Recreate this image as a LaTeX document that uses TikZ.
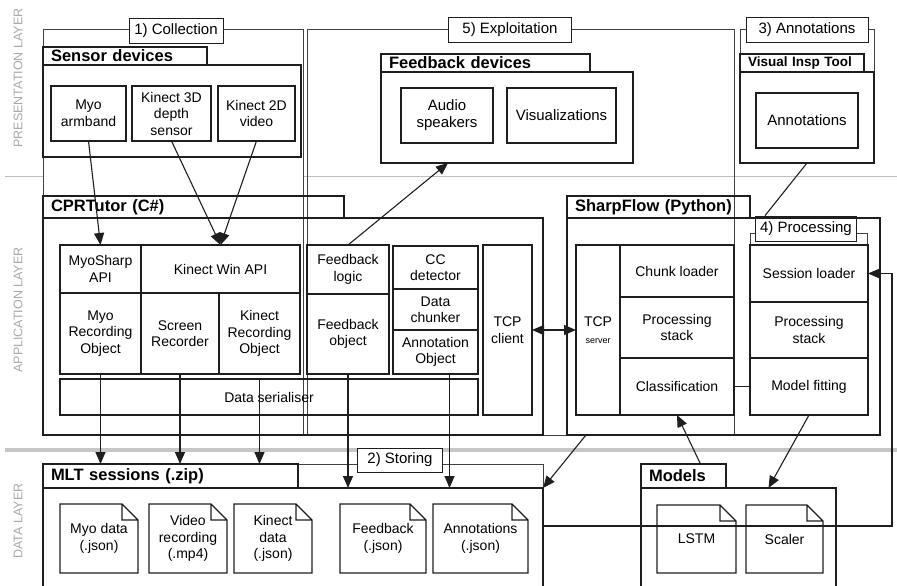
\documentclass[tikz,border=0pt]{standalone}
\usepackage{fontspec}
\setmainfont{Liberation Sans}
\usetikzlibrary{positioning,arrows.meta}
\definecolor{lineGray}{HTML}{1E1E1E}
\definecolor{layerGray}{HTML}{A8A8A8}

\begin{document}
\begin{tikzpicture}[x=1pt, y=-1pt, line width=1.1pt, >={Triangle[length=12pt,width=10pt]},
    box/.style={draw=lineGray, align=center, inner sep=1pt, outer sep=0pt, anchor=north west, font=\fontsize{14}{16.5}\selectfont},
    filebox/.style={align=center, inner sep=1pt, outer sep=0pt, anchor=north west, minimum height=69pt, font=\fontsize{14}{16.5}\selectfont},
    tabbox/.style={draw=lineGray, anchor=south west, inner xsep=8pt, inner ysep=0pt, outer sep=0pt, align=left, font=\bfseries\fontsize{16.5}{18}\selectfont},
    pkg/.style={draw=lineGray, anchor=north west, inner sep=0pt, outer sep=0pt},
    phasefr/.style={draw=lineGray!85, line width=0.7pt, anchor=north west, inner sep=0pt, outer sep=0pt},
    phaselbl/.style={draw=lineGray, fill=white, line width=0.8pt, inner xsep=4pt, inner ysep=0pt, minimum height=25pt, font=\fontsize{15}{17}\selectfont},
    layerlbl/.style={rotate=90, text=layerGray, font=\fontsize{12.5}{14}\selectfont},
    conn/.style={draw=lineGray, ->}]
  \useasboundingbox (0,0) rectangle (897,586);

  % layer separators and layer names
  \draw[layerGray!75, line width=0.8pt] (5,176) -- (897,176);
  \draw[layerGray!65, line width=4pt] (5,450) -- (897,450);
  \node[layerlbl] (lpres) at (18,78) {PRESENTATION LAYER};
  \node[layerlbl] (lapp) at (18,310) {APPLICATION LAYER};
  \node[layerlbl] (ldata) at (18,521) {DATA LAYER};

  % phase frames
  \node[phasefr, fill=white, minimum width=260pt, minimum height=406pt] (collect) at (43,29) {};
  \node[phasefr, minimum width=427pt, minimum height=406pt] (exploit) at (307,29) {};
  \node[phasefr, minimum width=134pt, minimum height=134pt] (annot) at (740,29) {};
  \node[phasefr, minimum width=117pt, minimum height=182pt] (process) at (750,233) {};
  \node[phasefr, minimum width=500pt, minimum height=130pt] (storing) at (43,464) {};
  \node[phaselbl, minimum width=94pt] (lcollect) at (176,30.5) {1) Collection};
  \node[phaselbl, minimum width=123pt] (lexploit) at (510,29.5) {5) Exploitation};
  \node[phaselbl, minimum width=122pt] (lannot) at (807,29.5) {3) Annotations};
  \node[phaselbl, minimum width=101pt] (lprocess) at (806,228.5) {4) Processing};
  \node[phaselbl, minimum width=85pt, minimum height=24pt] (lstoring) at (400,460) {2) Storing};

  % presentation layer
  \node[tabbox, text width=148pt, minimum height=18pt] (senstab) at (43,65) {Sensor devices};
  \node[pkg, minimum width=258pt, minimum height=92pt] (sensors) at (43,65) {};
  \node[box, minimum width=75pt, minimum height=55pt] (myo) at (51,86) {Myo\\armband};
  \node[box, minimum width=79pt, minimum height=55pt, right=6pt of myo] (kin3d) {Kinect 3D\\depth\\sensor};
  \node[box, minimum width=77pt, minimum height=55pt, right=7pt of kin3d] (kin2d) {Kinect 2D\\video};

  \node[tabbox, text width=193pt, minimum height=18pt] (fbtab) at (381,72) {Feedback devices};
  \node[pkg, minimum width=252pt, minimum height=91pt] (fbdev) at (381,72) {};
  \node[box, minimum width=92pt, minimum height=55pt, font=\fontsize{15}{17}\selectfont] (audio) at (401,88) {Audio\\speakers};
  \node[box, minimum width=109pt, minimum height=55pt, font=\fontsize{15}{17}\selectfont, right=14pt of audio] (visual) {Visualizations};

  \node[tabbox, text width=108pt, minimum height=18pt, font=\bfseries\fontsize{13.5}{15}\selectfont] (vittab) at (740,72) {Visual Insp Tool};
  \node[pkg, minimum width=134pt, minimum height=91pt] (vit) at (740,72) {};
  \node[box, minimum width=102pt, minimum height=55pt, font=\fontsize{15}{17}\selectfont] (annview) at (756,93) {Annotations};

  % application layer: CPRTutor
  \node[tabbox, text width=285pt, minimum height=22pt] (cprtab) at (43,218) {CPRTutor (C\#)};
  \node[pkg, minimum width=500pt, minimum height=217pt] (cpr) at (43,218) {};
  \node[box, minimum width=81pt, minimum height=48pt] (myoapi) at (60,245) {MyoSharp\\API};
  \node[box, minimum width=159pt, minimum height=48pt, right=0pt of myoapi] (kinapi) {Kinect Win API};
  \node[box, minimum width=81pt, minimum height=81pt, below=0pt of myoapi] (myorec) {Myo\\Recording\\Object};
  \node[box, minimum width=78pt, minimum height=81pt, right=0pt of myorec] (screc) {Screen\\Recorder};
  \node[box, minimum width=81pt, minimum height=81pt, right=0pt of screc] (kinrec) {Kinect\\Recording\\Object};
  \node[box, minimum width=418pt, minimum height=36pt] (serial) at (60,379) {Data serialiser};
  \node[box, minimum width=82pt, minimum height=49pt] (fblogic) at (307,245) {Feedback\\logic};
  \node[box, minimum width=82pt, minimum height=80pt, below=0pt of fblogic] (fbobj) {Feedback\\object};
  \node[box, minimum width=85pt, minimum height=43pt] (ccdet) at (393,246) {CC\\detector};
  \node[box, minimum width=85pt, minimum height=41pt, below=0pt of ccdet] (chunker) {Data\\chunker};
  \node[box, minimum width=85pt, minimum height=44pt, below=0pt of chunker] (annobj) {Annotation\\Object};
  \node[box, minimum width=49pt, minimum height=170pt] (tcpc) at (483,245) {TCP\\client};

  % application layer: SharpFlow
  \node[tabbox, text width=167pt, minimum height=22pt] (sftab) at (567,218) {SharpFlow (Python)};
  \node[pkg, minimum width=313pt, minimum height=217pt] (sf) at (567,218) {};
  \node[box, minimum width=44pt, minimum height=170pt] (tcps) at (576,245) {TCP\\{\fontsize{9}{11}\selectfont server}};
  \node[box, minimum width=114pt, minimum height=52pt] (chunk) at (620,245) {Chunk loader};
  \node[box, minimum width=114pt, minimum height=61pt, below=0pt of chunk] (pstack) {Processing\\stack};
  \node[box, minimum width=114pt, minimum height=57pt, below=0pt of pstack] (classif) {Classification};
  \node[box, minimum width=118pt, minimum height=57pt] (sessload) at (750,245) {Session loader};
  \node[box, minimum width=118pt, minimum height=56pt, below=0pt of sessload] (pstackb) {Processing\\stack};
  \node[box, minimum width=118pt, minimum height=57pt, below=0pt of pstackb] (fitting) {Model fitting};

  % data layer
  \node[tabbox, text width=239pt, minimum height=24pt] (mlttab) at (43,488) {MLT sessions (.zip)};
  \node[pkg, minimum width=500pt, minimum height=110pt] (mlt) at (43,488) {};
  \node[filebox, minimum width=78pt] (myodata) at (60,504) {Myo data\\(.json)};
  \node[filebox, minimum width=78pt, right=11pt of myodata] (video) {Video\\recording\\(.mp4)};
  \node[filebox, minimum width=78pt, right=7pt of video] (kindata) {Kinect\\data\\(.json)};
  \node[filebox, minimum width=86pt] (fbjson) at (340,504) {Feedback\\(.json)};
  \node[filebox, minimum width=95pt, right=7pt of fbjson] (annjson) {Annotations\\(.json)};

  \node[tabbox, text width=69pt, minimum height=24pt] (modtab) at (641,488) {Models};
  \node[pkg, minimum width=195pt, minimum height=110pt] (models) at (641,488) {};
  \node[filebox, minimum width=79pt, minimum height=68pt] (lstm) at (657,505) {LSTM};
  \node[filebox, minimum width=77pt, minimum height=68pt, right=10pt of lstm] (scaler) {Scaler};

  % dog-eared file outlines
  \foreach \f in {myodata,video,kindata,fbjson,annjson,lstm,scaler}
    \draw[lineGray] (\f.north west) -- ([xshift=-16pt]\f.north east) -- ([yshift=-16pt]\f.north east)
      -- (\f.south east) -- (\f.south west) -- cycle
      ([xshift=-16pt]\f.north east) |- ([yshift=-16pt]\f.north east);

  % connectors
  \draw[conn] (myo.south) -- (myoapi.north);
  \draw[conn] (kin3d.south) -- (kinapi.north);
  \draw[conn] (kin2d.south) -- (kinapi.north);
  \draw[conn] (fblogic.north) -- ([xshift=-59pt]fbdev.south);
  \draw[lineGray] (vit.south) -- ([xshift=-41pt]lprocess.north);
  \draw[conn] (myorec.south) -- (myorec.south |- mlttab.north);
  \draw[conn] (screc.south) -- (screc.south |- mlttab.north);
  \draw[conn] (kinrec.south |- serial.north) -- (kinrec.south |- mlttab.north);
  \draw[conn] (fbobj.south) -- (fbobj.south |- mlt.north);
  \draw[conn] ([xshift=14pt]annobj.south) -- ([xshift=14pt]annobj.south |- mlt.north);
  \draw[conn, <->] (tcpc.east) -- (tcps.west);
  \draw[conn] ([xshift=19pt]sf.south west) -- (mlt.north east);
  \draw[conn] ([xshift=17pt]modtab.north) -- (classif.south);
  \draw[conn] (fitting.south) -- ([xshift=30pt]models.north);
  \draw[lineGray] (classif.east) -- (fitting.west |- classif.east);
  \coordinate (loopc) at (892,526);
  \draw[conn] (mlt.east |- loopc) -- (loopc) |- (sessload.east);
\end{tikzpicture}
\end{document}
